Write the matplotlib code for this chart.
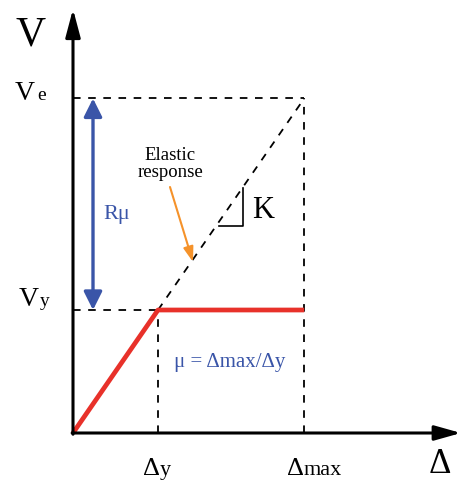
import matplotlib
matplotlib.use("Agg")
import matplotlib.pyplot as plt

# Data (normalized: yield displacement = 1, yield force = 1)
yield_disp = 1.0
max_disp = 2.72
yield_force = 1.0
elastic_force = 2.72

curve_x = [0.0, yield_disp, max_disp]
curve_y = [0.0, yield_force, yield_force]

W, H = 458, 481
fig = plt.figure(figsize=(W / 100, H / 100), dpi=100)
ax = fig.add_axes([0, 0, 1, 1])
# pixel mapping: x_px = 73 + 85*x ; y_px(from top) = 434 - 123*y
sx, sy = 85.0, 123.0
ox, oy = 73.0, 434.0
ax.set_xlim(-ox / sx, (W - ox) / sx)
ax.set_ylim(-(H - oy) / sy, oy / sy)
ax.axis("off")

serif = ["Liberation Serif", "DejaVu Serif"]
blue = "#3a55a8"
red = "#e8312a"
orange = "#f5922a"


def px(x, y):
    return ((x - ox) / sx, (oy - y) / sy)


dash = dict(color="black", lw=1.3, ls=(0, (4.2, 4.2)))
# dashed guides
ax.plot([0, max_disp], [elastic_force, elastic_force], **dash)
ax.plot([max_disp, max_disp], [0, elastic_force], **dash)
ax.plot([yield_disp, max_disp], [yield_force, elastic_force], **dash)
ax.plot([0, yield_disp], [yield_force, yield_force], **dash)
ax.plot([yield_disp, yield_disp], [0, yield_force], **dash)

# red bilinear curve
ax.plot(curve_x, curve_y, color=red, lw=3.4, solid_capstyle="butt", zorder=5)

# axes with arrows
ytop = (oy - 10) / sy
xright = (W - ox + 3) / sx
ax.annotate("", xy=(0, ytop), xytext=(0, -0.01), annotation_clip=False,
            arrowprops=dict(arrowstyle="-|>,head_length=1.7,head_width=0.45",
                            color="black", lw=2.2, shrinkA=0, shrinkB=0), zorder=6)
ax.annotate("", xy=(xright, 0), xytext=(-0.01, 0), annotation_clip=False,
            arrowprops=dict(arrowstyle="-|>,head_length=1.6,head_width=0.45",
                            color="black", lw=2.2, shrinkA=0, shrinkB=0), zorder=6)

# blue double arrow R_mu
bx = (93 - ox) / sx
ax.annotate("", xy=(bx, elastic_force), xytext=(bx, yield_force), annotation_clip=False,
            arrowprops=dict(arrowstyle="<|-|>,head_length=1.1,head_width=0.55",
                            color=blue, lw=2.4, shrinkA=0, shrinkB=0))

# orange arrow
ax.annotate("", xy=px(193, 263), xytext=px(170, 188), annotation_clip=False,
            arrowprops=dict(arrowstyle="-|>,head_length=0.9,head_width=0.3",
                            color=orange, lw=1.5, shrinkA=0, shrinkB=0))

# slope triangle
tx1, ty1 = px(219, 227)
tx2, ty2 = px(243, 189)
ax.plot([tx1, tx2, tx2], [ty1, ty1, ty2], color="black", lw=1.2)

# texts
ax.text(*px(31, 45), "V", fontsize=30, family=serif, ha="center", va="baseline")
ax.text(*px(15, 100), "V", fontsize=20, family=serif, ha="left", va="baseline")
ax.text(*px(37, 100), "e", fontsize=14, family=serif, ha="left", va="baseline")
ax.text(*px(19, 306), "V", fontsize=20, family=serif, ha="left", va="baseline")
ax.text(*px(40, 306), "y", fontsize=14, family=serif, ha="left", va="baseline")

ax.text(*px(143, 475), "\u0394", fontsize=19, family=serif, ha="left", va="baseline")
ax.text(*px(160, 475), "y", fontsize=16, family=serif, ha="left", va="baseline")
ax.text(*px(287, 475), "\u0394", fontsize=19, family=serif, ha="left", va="baseline")
ax.text(*px(304, 475), "max", fontsize=16, family=serif, ha="left", va="baseline")
ax.text(*px(440, 481), "\u0394", fontsize=25, family=serif, ha="center", va="bottom")

ax.text(*px(263, 211), "K", fontsize=22, family=serif, ha="center", va="center")
ax.text(*px(170, 164), "Elastic\nresponse", fontsize=13.5, family=serif,
        ha="center", va="center", linespacing=1.0)
ax.text(*px(117, 215), "R\u03bc", fontsize=16, family=serif, color=blue,
        ha="center", va="center")

# mu formula
ax.text(*px(174, 367), "\u03bc = \u0394max/\u0394y", fontsize=15, family=serif,
        color=blue, ha="left", va="baseline")

fig.savefig("out.png", dpi=100, facecolor="white")
